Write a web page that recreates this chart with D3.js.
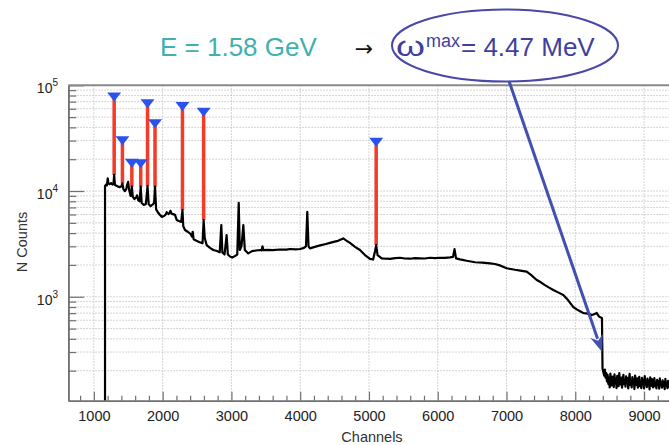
<!DOCTYPE html>
<html><head><meta charset="utf-8">
<script src="https://cdn.jsdelivr.net/npm/d3@7"></script>
<style>
body{margin:0;background:#fff}
svg{display:block}
text{font-family:"Liberation Sans",Arial,Helvetica,sans-serif}
</style>
</head><body>
<svg id="c" width="669" height="445"></svg>
<script>
// ---------------- data ----------------
const channels = [1162,1162,1176,1190,1201,1212,1230,1250,1270,1285,1295,1306,1330,1355,1380,1400,1415,1428,1450,1470,1483,1498,1512,1535,1552,1566,1590,1615,1627,1645,1665,1681,1695,1725,1755,1780,1797,1825,1860,1876,1889,1905,1930,1955,1986,2020,2045,2059,2085,2100,2114,2130,2150,2180,2204,2235,2270,2288,2300,2325,2370,2410,2425,2437,2450,2485,2530,2580,2596,2612,2640,2688,2736,2790,2830,2853,2868,2900,2930,2948,2980,3010,3040,3085,3106,3122,3147,3173,3195,3245,3300,3357,3420,3440,3452,3465,3530,3600,3706,3800,3852,3930,4000,4055,4084,4103,4121,4143,4200,4288,4360,4433,4500,4550,4627,4666,4724,4797,4869,4942,5015,5060,5085,5105,5125,5185,5250,5307,5380,5452,5520,5598,5670,5743,5810,5888,5960,6034,6100,6179,6222,6244,6266,6324,6421,6542,6650,6760,6830,6905,7003,7060,7123,7200,7293,7356,7439,7500,7559,7620,7680,7750,7826,7894,7971,8020,8069,8120,8166,8243,8290,8311,8345,8375,8388,8396,8420];
const counts = [50,11150,11500,11300,13200,11800,11600,11900,11500,11700,14200,11400,11200,11000,10900,11100,11800,10500,10000,10400,11400,12200,10300,9000,11000,8800,8400,8700,9100,8200,8000,11000,7700,7400,7500,11150,7500,7200,7500,7800,11000,6700,6300,6000,5700,5800,6000,6300,6050,6200,6500,6100,6050,5950,5330,5200,5100,6600,4650,4280,4100,3900,3700,4120,3500,3400,3300,3200,5320,3600,3080,2900,2770,2710,2630,4770,2630,2510,3840,2510,2400,2350,2400,2510,7750,2770,3020,4770,2770,2570,2700,2740,2770,2750,3000,2760,2780,2760,2800,2790,2830,2810,2830,2900,3000,6370,3000,2870,2950,3060,3140,3230,3320,3380,3560,3420,3230,2960,2770,2480,2280,2250,2630,3080,2480,2310,2290,2280,2320,2340,2300,2290,2320,2310,2300,2340,2320,2340,2330,2360,2380,2820,2310,2260,2190,2120,2100,2070,2040,1980,1860,1830,1800,1770,1730,1610,1440,1370,1290,1220,1160,1100,1040,930,800,760,730,700,697,671,690,705,650,635,630,210,180];
// noisy tail after the edge, one value every 10 channels starting at 8430
const tailStart = 8430, tailStep = 10;
const tailCounts = [205,172,190,158,183,150,171,139,188,158,145,176,162,140,185,152,168,137,179,160,143,190,155,148,172,138,166,183,149,160,141,177,153,170,136,162,187,147,158,139,174,151,165,134,180,156,146,169,138,161,175,143,157,137,171,150,163,136,178,149,155,140,168,145,160,133,173,152,144,166,139,158,170,142,154,136,164,148,159,135,169,146,153,138,162,143,156,134,167,147,151,137,160,141,155,133,163,145,150,136,158,140,152,134];
// identified lines (markers)
const peakChannels = [1295,1415,1552,1681,1780,1889,2288,2596,5105];
const peakCounts   = [14200,11800,11000,11000,11150,11000,6600,5320,3080];
const markerCounts = [78400,30200,18500,18300,67600,43700,63700,56200,29300];
// axes
const xMajorTicks = [1000,2000,3000,4000,5000,6000,7000,8000,9000];
const xMinorStep = 200;
const yDecades = [1e3,1e4,1e5];
const yExponents = ["3","4","5"];
const xTitle = "Channels", yTitle = "N Counts";
// annotation
const energyText = "E = 1.58 GeV";
const omegaSymbol = "ω", omegaSup = "max", omegaValue = "= 4.47 MeV";
const edgeChannel = 8390, edgeCounts = 300;

// ---------------- chart ----------------
const svg = d3.select("#c");
const X0 = 68.3, X1 = 675, Y0 = 400.7, Y1 = 85.3;
const x = d3.scaleLinear().domain([628, 9450]).range([X0, X1]);
const y = d3.scaleLog().domain([104, 1e5]).range([Y0, Y1]);

svg.append("defs").append("clipPath").attr("id", "clip")
  .append("rect").attr("x", X0).attr("y", Y1).attr("width", X1 - X0).attr("height", Y0 - Y1);

// grid
const grid = svg.append("g").attr("stroke", "#c6c6c6").attr("stroke-width", 1).attr("stroke-dasharray", "1.5,1.5");
const yGrid = y.ticks().filter(v => v > y.domain()[0] && v < 1e5);
grid.selectAll(".gy").data(yGrid).join("line")
  .attr("x1", X0).attr("x2", X1).attr("y1", d => y(d)).attr("y2", d => y(d));
grid.selectAll(".gx").data(xMajorTicks).join("line")
  .attr("y1", Y1).attr("y2", Y0).attr("x1", d => x(d)).attr("x2", d => x(d));

// red marker lines
const plot = svg.append("g").attr("clip-path", "url(#clip)");
plot.selectAll(".ml").data(peakChannels).join("line")
  .attr("x1", d => x(d)).attr("x2", d => x(d))
  .attr("y1", (d, i) => y(markerCounts[i])).attr("y2", (d, i) => y(peakCounts[i]))
  .attr("stroke", "#f03c28").attr("stroke-width", 3.5);

// spectrum
const data = channels.map((c, i) => ({c, v: counts[i]}))
  .concat(tailCounts.map((v, i) => ({c: tailStart + i * tailStep, v})));
plot.append("path").datum(data)
  .attr("fill", "none").attr("stroke", "#000").attr("stroke-width", 2.2).attr("stroke-linejoin", "round")
  .attr("d", d3.line().x(d => x(d.c)).y(d => y(d.v)));

// triangles
plot.selectAll(".tri").data(peakChannels).join("path")
  .attr("d", (d, i) => {
    const cx = x(d), cy = y(markerCounts[i]);
    return `M${cx - 7},${cy - 4}L${cx + 7},${cy - 4}L${cx},${cy + 5}Z`;
  })
  .attr("fill", "#2b52ee");

// axes
const axisColor = "#707070";
const xMinor = d3.range(800, 9500, xMinorStep).filter(v => v % 1000 !== 0);
const gxMinor = svg.append("g").attr("transform", `translate(0,${Y0})`)
  .call(d3.axisBottom(x).tickValues(xMinor).tickSize(-5).tickSizeOuter(0).tickFormat(""));
const gx = svg.append("g").attr("transform", `translate(0,${Y0})`)
  .call(d3.axisBottom(x).tickValues(xMajorTicks).tickSize(-9).tickSizeOuter(0).tickPadding(10).tickFormat(d3.format("d")));
const yMinor = yGrid.filter(v => !yDecades.includes(v));
const gyMinor = svg.append("g").attr("transform", `translate(${X0},0)`)
  .call(d3.axisLeft(y).tickValues(yMinor).tickSize(-8).tickSizeOuter(0).tickFormat(""));
const gy = svg.append("g").attr("transform", `translate(${X0},0)`)
  .call(d3.axisLeft(y).tickValues(yDecades).tickSize(-16).tickSizeOuter(0).tickFormat(""));
[gxMinor, gx, gyMinor, gy].forEach(g => {
  g.select(".domain").attr("stroke", axisColor).attr("stroke-width", 1.6);
  g.selectAll(".tick line").attr("stroke", axisColor).attr("stroke-width", 1.2);
});
gx.selectAll(".tick text").attr("fill", "#222").style("font-size", "14.5px").style("font-family", '"Liberation Sans",Arial,sans-serif');
// top frame
svg.append("line").attr("x1", X0).attr("x2", X1).attr("y1", Y1).attr("y2", Y1)
  .attr("stroke", "#8a8a8a").attr("stroke-width", 2);

// y labels 10^n
const yl = svg.selectAll(".yl").data(yDecades).join("text")
  .attr("x", 58).attr("y", d => y(d) + 8).attr("text-anchor", "end")
  .attr("fill", "#222").style("font-size", "14px");
yl.append("tspan").text("10");
yl.append("tspan").attr("dy", -7).style("font-size", "10px").text((d, i) => yExponents[i]);

// axis titles
svg.append("text").attr("x", 372).attr("y", 442).attr("text-anchor", "middle")
  .attr("fill", "#333").style("font-size", "14.5px").text(xTitle);
svg.append("text").attr("transform", "translate(27,242) rotate(-90)").attr("text-anchor", "middle")
  .attr("fill", "#333").style("font-size", "14.5px").text(yTitle);

// annotation
svg.append("text").attr("x", 160).attr("y", 56).attr("fill", "#40b0b0")
  .style("font-size", "26px").text(energyText);
svg.append("text").attr("x", 364).attr("y", 56).attr("text-anchor", "middle").attr("fill", "#111")
  .style("font-family", '"DejaVu Sans",sans-serif').style("font-size", "22px").text("→");
const om = svg.append("text").attr("y", 56).attr("fill", "#3f3f9f").style("font-size", "26px");
om.append("tspan").attr("x", 396).style("font-size", "28px").attr("textLength", 29).attr("lengthAdjust", "spacingAndGlyphs").text(omegaSymbol);
om.append("tspan").attr("x", 426).attr("y", 47).style("font-size", "18px").text(omegaSup);
om.append("tspan").attr("x", 461).attr("y", 56).text(omegaValue);
svg.append("ellipse").attr("cx", 505).attr("cy", 45.5).attr("rx", 113).attr("ry", 36)
  .attr("fill", "none").attr("stroke", "#4848a8").attr("stroke-width", 2);

const sx = 509, sy = 81;
const tx = x(edgeChannel), ty = y(edgeCounts);
const dx = tx - sx, dy = ty - sy, L = Math.hypot(dx, dy);
const ux = dx / L, uy = dy / L, px = -uy, py = ux;
const hl = 17, hw = 6.5;
svg.append("line").attr("x1", sx).attr("y1", sy).attr("x2", tx - ux * (hl - 3)).attr("y2", ty - uy * (hl - 3))
  .attr("stroke", "#4450b0").attr("stroke-width", 3);
svg.append("path")
  .attr("d", `M${tx},${ty}L${tx - ux * hl + px * hw},${ty - uy * hl + py * hw}L${tx - ux * (hl - 5)},${ty - uy * (hl - 5)}L${tx - ux * hl - px * hw},${ty - uy * hl - py * hw}Z`)
  .attr("fill", "#4450b0");
</script>
</body></html>
